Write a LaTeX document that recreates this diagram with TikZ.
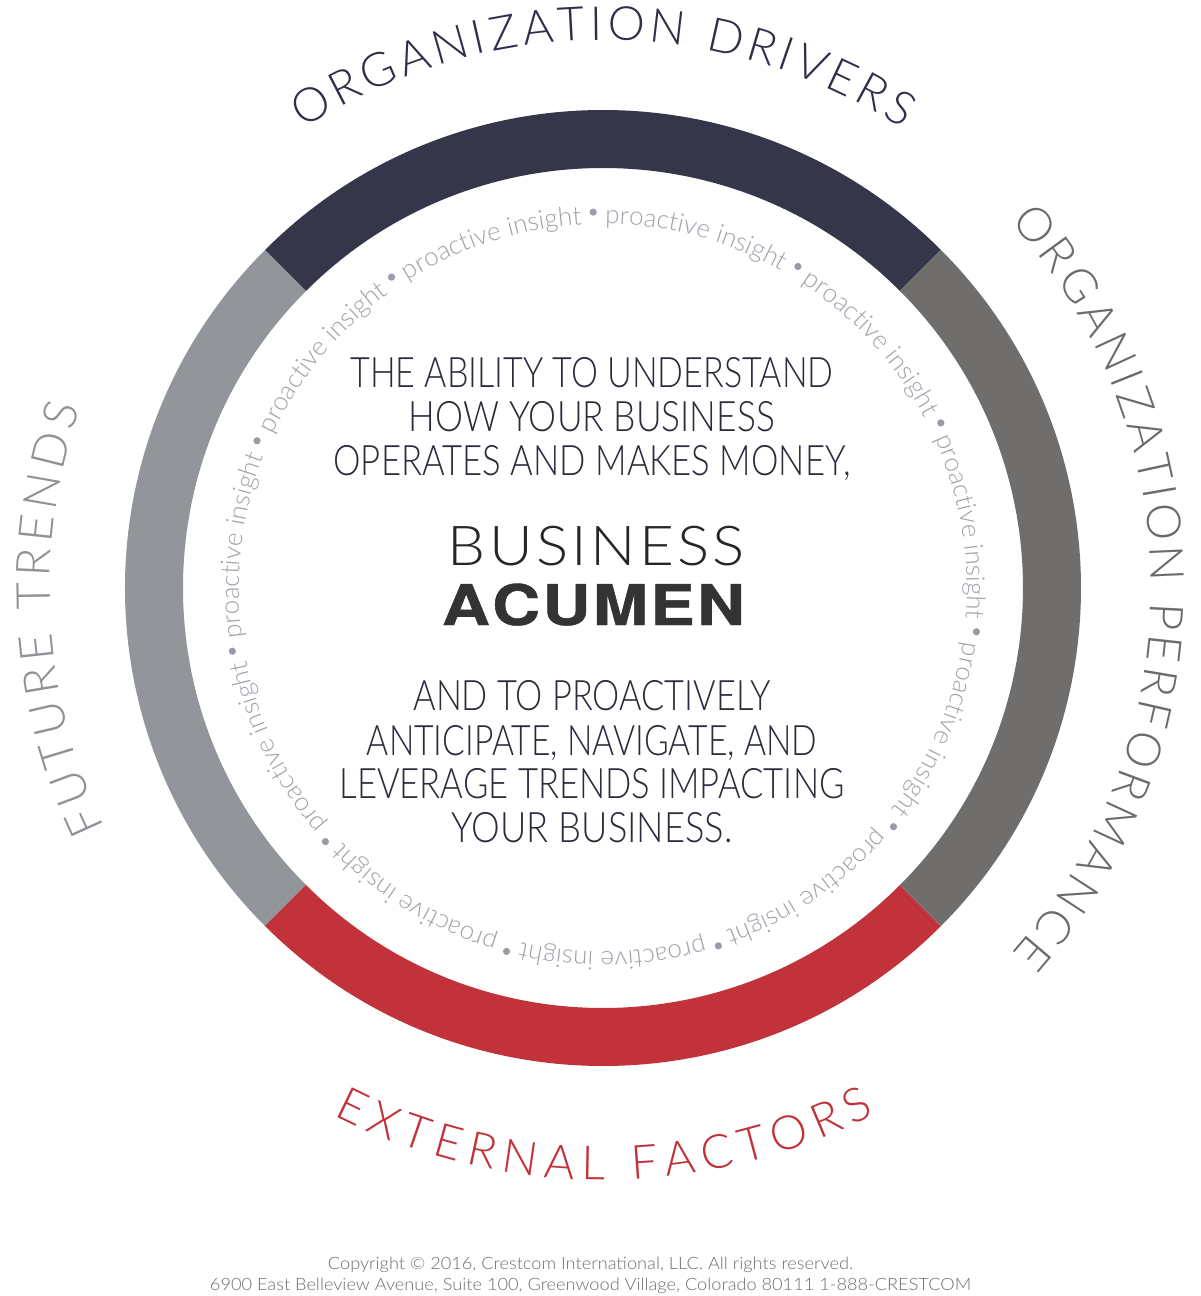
\documentclass[tikz,border=0pt]{standalone}
\usepackage{fontspec}
\usepackage{graphicx}
\usetikzlibrary{decorations.text}
\setmainfont{TeX Gyre Heros}
\newfontfamily\heavyfont{TeX Gyre Heros}[BoldFeatures={FakeBold=0.8}]
\IfFontExistsTF{Lato Light}
  {\newfontfamily\lightfont{Lato Light}}
  {\newfontfamily\lightfont{TeX Gyre Heros}}
\definecolor{ringNavy}{HTML}{36364A}
\definecolor{ringSlate}{HTML}{6F6E6D}
\definecolor{ringSilver}{HTML}{929599}
\definecolor{ringRed}{HTML}{C1323A}
\definecolor{lblNavy}{HTML}{2F2F48}
\definecolor{lblSlate}{HTML}{6B6B6B}
\definecolor{lblSilver}{HTML}{8E9195}
\definecolor{lblRed}{HTML}{C1323A}
\definecolor{bodyInk}{HTML}{2B2B3B}
\definecolor{insightGray}{HTML}{A2A2AC}
\definecolor{dotGray}{HTML}{9B9BA7}
\definecolor{noteGray}{HTML}{6D6E71}
\newcommand\fitline[2]{\resizebox{#1}{\height}{\lightfont\fontsize{42}{42}\selectfont #2}}
\begin{document}
\begin{tikzpicture}[x=1pt,y=1pt,
  bodyline/.style={inner sep=0pt, anchor=base, text=bodyInk},
  noteline/.style={inner sep=0pt, anchor=base, text=noteGray}]
\useasboundingbox (-603,-708) rectangle (597,588);
\fill[white] (-603,-708) rectangle (597,588);
\def\ringOut{478}
\def\ringIn{420}
% ring quadrants
\fill[ringNavy] (45:\ringOut) arc[start angle=45,end angle=135,radius=\ringOut]
  -- (135:\ringIn) arc[start angle=135,end angle=45,radius=\ringIn] -- cycle;
\fill[ringSilver] (135:\ringOut) arc[start angle=135,end angle=225,radius=\ringOut]
  -- (225:\ringIn) arc[start angle=225,end angle=135,radius=\ringIn] -- cycle;
\fill[ringRed] (225:\ringOut) arc[start angle=225,end angle=315,radius=\ringOut]
  -- (315:\ringIn) arc[start angle=315,end angle=225,radius=\ringIn] -- cycle;
\fill[ringSlate] (-45:\ringOut) arc[start angle=-45,end angle=45,radius=\ringOut]
  -- (45:\ringIn) arc[start angle=45,end angle=-45,radius=\ringIn] -- cycle;
% outer labels
\path[decorate, decoration={text along path, text align=fit to path,
  text={|\lightfont\fontsize{47}{47}\selectfont\color{lblNavy}|ORGANIZATION DRIVERS}}]
  (123.1:548) arc[start angle=123.1, end angle=56.9, radius=548];
\path[decorate, decoration={text along path, text align=fit to path,
  text={|\lightfont\fontsize{47}{47}\selectfont\color{lblSlate}|ORGANIZATION PERFORMANCE}}]
  (42:548) arc[start angle=42, end angle=-41.7, radius=548];
\path[decorate, decoration={text along path, text align=fit to path,
  text={|\lightfont\fontsize{47}{47}\selectfont\color{lblSilver}|FUTURE TRENDS}}]
  (205.7:553) arc[start angle=205.7, end angle=161, radius=553];
\path[decorate, decoration={text along path, text align=fit to path,
  text={|\lightfont\fontsize{47}{47}\selectfont\color{lblRed}|EXTERNAL FACTORS}}]
  (-117.1:592) arc[start angle=-117.1, end angle=-62.7, radius=592];
% proactive insight ring
\foreach \k in {0,...,10}{
  \pgfmathsetmacro{\bA}{91.5-32.7273*\k}
  \pgfmathsetmacro{\bB}{\bA-32.7273}
  \fill[dotGray] (\bA:376) circle[radius=3.6];
  \path[decorate, decoration={text along path, text align=center,
    text={|\lightfont\fontsize{26}{26}\selectfont\color{insightGray}|proactive insight}}]
    (\bA:364) arc[start angle=\bA, end angle=\bB, radius=364];
}
% centre text
\node[bodyline] (l1) at (-11,200) {\fitline{483pt}{THE ABILITY TO UNDERSTAND}};
\node[bodyline] (l2) at (-11,156) {\fitline{366pt}{HOW YOUR BUSINESS}};
\node[bodyline] (l3) at (-11,112) {\fitline{517pt}{OPERATES AND MAKES MONEY,}};
\node[bodyline, text=black!85] (biz) at (-6.5,23) {\resizebox{297pt}{\height}{\lightfont\fontsize{55}{55}\selectfont B\kern3pt U\kern3pt S\kern3pt I\kern3pt N\kern3pt E\kern3pt S\kern3pt S}};
\node[bodyline, text=black!80] (acu) at (-9.5,-37) {\resizebox{303pt}{\height}{\heavyfont\bfseries\fontsize{56}{56}\selectfont A\kern2pt C\kern2pt U\kern2pt M\kern2pt E\kern2pt N}};
\node[bodyline] (l4) at (-11,-122) {\fitline{357pt}{AND TO PROACTIVELY}};
\node[bodyline] (l5) at (-11,-167) {\fitline{450pt}{ANTICIPATE, NAVIGATE, AND}};
\node[bodyline] (l6) at (-11,-210) {\fitline{505pt}{LEVERAGE TRENDS IMPACTING}};
\node[bodyline] (l7) at (-11,-254) {\fitline{281pt}{YOUR BUSINESS.}};
% copyright
\node[noteline] (copy1) at (-12.5,-681) {\resizebox{525pt}{\height}{\lightfont\fontsize{17}{17}\selectfont Copyright © 2016, Crestcom International, LLC. All rights reserved.}};
\node[noteline] (copy2) at (-12.5,-702) {\resizebox{761pt}{\height}{\lightfont\fontsize{17}{17}\selectfont 6900 East Belleview Avenue, Suite 100, Greenwood Village, Colorado 80111 1-888-CRESTCOM}};
\end{tikzpicture}
\end{document}
